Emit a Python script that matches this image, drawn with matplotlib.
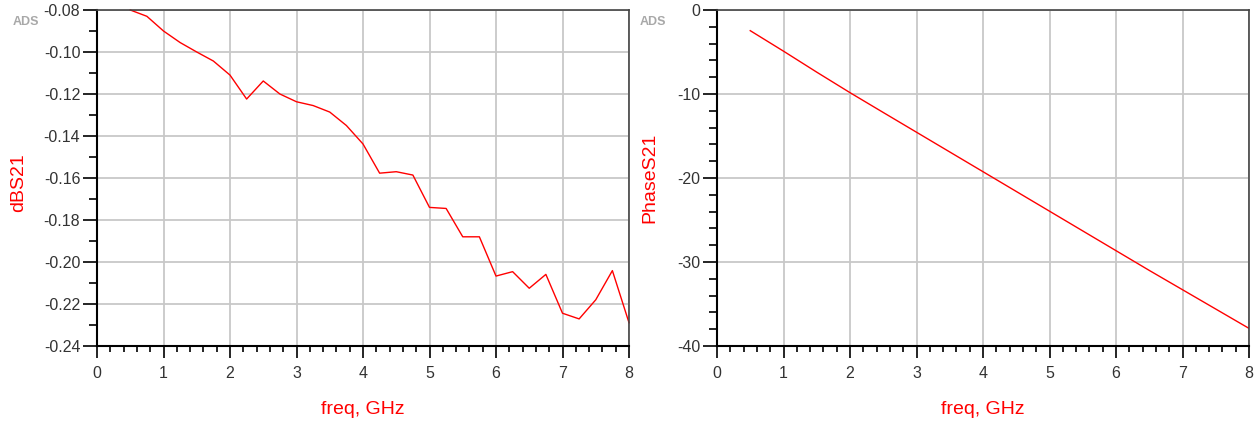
import matplotlib
matplotlib.use("Agg")
import matplotlib.pyplot as plt
from matplotlib.ticker import MultipleLocator

plt.rcParams['font.family'] = ['Liberation Sans', 'DejaVu Sans']

freq_db = [0.5, 0.75, 1.0, 1.25, 1.5, 1.75, 2.0, 2.25, 2.5, 2.75, 3.0, 3.25, 3.5, 3.75,
           4.0, 4.25, 4.5, 4.75, 5.0, 5.25, 5.5, 5.75, 6.0, 6.25, 6.5, 6.75, 7.0, 7.25,
           7.5, 7.75, 8.0]
dbs21 = [-0.0800, -0.0830, -0.0900, -0.0955, -0.1000, -0.1043, -0.1110, -0.1224, -0.1138,
         -0.1200, -0.1237, -0.1255, -0.1286, -0.1350, -0.1438, -0.1577, -0.1570, -0.1586,
         -0.1740, -0.1745, -0.1880, -0.1880, -0.2067, -0.2046, -0.2125, -0.2059, -0.2244,
         -0.2271, -0.2180, -0.2041, -0.2289]

freq_ph = [0.5, 1.0, 1.5, 2.0, 2.5, 3.0, 3.5, 4.0, 4.5, 5.0, 5.5, 6.0, 6.5, 7.0, 7.5, 8.0]
phases21 = [-2.46, -4.90, -7.40, -9.84, -12.20, -14.55, -16.90, -19.25, -21.60, -23.95,
            -26.30, -28.65, -31.00, -33.30, -35.60, -37.90]

W, H = 1258, 424
fig = plt.figure(figsize=(W / 100, H / 100), dpi=100)

def make_axes(x0, x1, y0, y1):
    return fig.add_axes([x0 / W, 1 - y1 / H, (x1 - x0) / W, (y1 - y0) / H])

ax1 = make_axes(97, 629, 10, 346)
ax2 = make_axes(717, 1249, 10, 346)

RED = '#ff0000'
TICKC = '#333333'

def style(ax, ylim, ymaj, ymin, ylabel, yfmt):
    ax.set_xlim(0, 8)
    ax.set_ylim(*ylim)
    ax.xaxis.set_major_locator(MultipleLocator(1))
    ax.xaxis.set_minor_locator(MultipleLocator(0.2))
    ax.yaxis.set_major_locator(MultipleLocator(ymaj))
    ax.yaxis.set_minor_locator(MultipleLocator(ymin))
    ax.yaxis.set_major_formatter(matplotlib.ticker.FormatStrFormatter(yfmt))
    ax.grid(True, which='major', color='#c8c8c8', linewidth=1.3)
    ax.set_axisbelow(True)
    for s in ['left', 'bottom']:
        ax.spines[s].set_color('black')
        ax.spines[s].set_linewidth(1.5)
    for s in ['top', 'right']:
        ax.spines[s].set_color('#444444')
        ax.spines[s].set_linewidth(1.2)
    ax.tick_params(axis='y', which='major', length=10, width=1.2, pad=2,
                   labelsize=11.5, labelcolor=TICKC, direction='out')
    ax.tick_params(axis='y', which='minor', length=6, width=1.2, direction='out')
    ax.tick_params(axis='x', which='major', length=8.5, width=1.2, pad=6,
                   labelsize=11.5, labelcolor=TICKC, direction='out')
    ax.tick_params(axis='x', which='minor', length=4.5, width=1.2, direction='out')
    ax.set_xlabel('freq, GHz', color=RED, fontsize=14, labelpad=14)
    ax.set_ylabel(ylabel, color=RED, fontsize=14)

ax1.plot(freq_db, dbs21, color=RED, linewidth=1.0, clip_on=False)
style(ax1, (-0.24, -0.08), 0.02, 0.01, 'dBS21', '%.2f')
ax1.yaxis.set_label_coords(-0.131, 0.485)

ax2.plot(freq_ph, phases21, color=RED, linewidth=1.0)
style(ax2, (-40, 0), 10, 2, 'PhaseS21', '%d')
ax2.yaxis.set_label_coords(-0.111, 0.5)

fig.text(26 / W, 1 - 22 / H, 'ADS', color='#a8a8a8', fontsize=9, fontweight='bold',
         ha='center', va='center')
fig.text(653 / W, 1 - 22 / H, 'ADS', color='#a8a8a8', fontsize=9, fontweight='bold',
         ha='center', va='center')

fig.savefig('out.png', dpi=100)
